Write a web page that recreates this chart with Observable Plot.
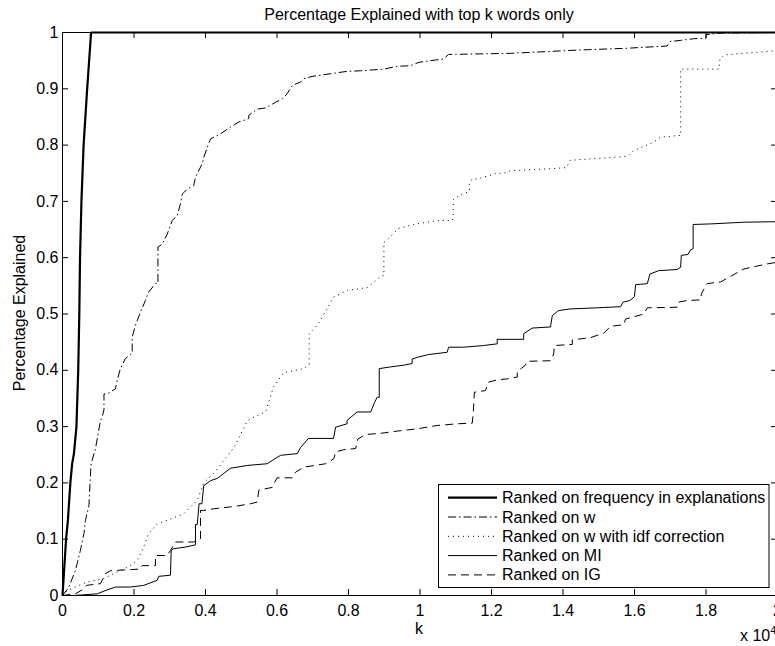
<!DOCTYPE html>
<html><head><meta charset="utf-8">
<script src="https://cdn.jsdelivr.net/npm/d3@7"></script>
<script src="https://cdn.jsdelivr.net/npm/@observablehq/plot@0.6"></script>
<style>html,body{margin:0;padding:0;background:#fff;overflow:hidden} svg{display:block}</style>
</head><body><div id="chart"></div>
<script>
const titleText = "Percentage Explained with top k words only";
const xLabel = "k";
const yLabel = "Percentage Explained";
const seriesNames = [
  "Ranked on frequency in explanations",
  "Ranked on w",
  "Ranked on w with idf correction",
  "Ranked on MI",
  "Ranked on IG"
];
const xTicks = [0,0.2,0.4,0.6,0.8,1,1.2,1.4,1.6,1.8,2];
const xTickLabels = ["0","0.2","0.4","0.6","0.8","1","1.2","1.4","1.6","1.8","2"];
const yTicks = [0,0.1,0.2,0.3,0.4,0.5,0.6,0.7,0.8,0.9,1];
const yTickLabels = ["0","0.1","0.2","0.3","0.4","0.5","0.6","0.7","0.8","0.9","1"];

// k in units of 10^4
const freqK = [0,0.005,0.010,0.015,0.022,0.027,0.032,0.039,0.044,0.047,0.049,0.053,0.059,0.069,0.080,2.0];
const freqP = [0,0.05,0.10,0.133,0.20,0.234,0.252,0.30,0.40,0.50,0.60,0.70,0.80,0.90,1.0,1.0];

const wK = [0,0.017,0.036,0.05,0.06,0.064,0.074,0.077,0.08,0.092,0.106,0.112,0.116,0.116,0.125,0.148,0.153,0.162,0.176,0.195,0.195,0.204,0.218,0.232,0.241,0.26,0.267,0.267,0.279,0.293,0.307,0.321,0.33,0.335,0.349,0.367,0.372,0.391,0.395,0.405,0.414,0.442,0.47,0.493,0.521,0.521,0.545,0.568,0.596,0.615,0.628,0.643,0.666,0.675,0.698,0.796,0.834,0.899,0.936,0.973,0.997,1.03,1.066,1.08,1.253,1.449,1.579,1.691,1.70,1.729,1.766,1.80,1.80,1.84,2.0];
const wP = [0,0.014,0.044,0.08,0.11,0.133,0.16,0.20,0.234,0.26,0.31,0.32,0.33,0.358,0.358,0.367,0.382,0.403,0.421,0.43,0.459,0.48,0.503,0.524,0.539,0.554,0.554,0.619,0.624,0.642,0.666,0.675,0.696,0.713,0.722,0.728,0.743,0.767,0.778,0.796,0.811,0.82,0.832,0.841,0.847,0.853,0.864,0.866,0.876,0.882,0.891,0.906,0.912,0.918,0.922,0.931,0.932,0.935,0.94,0.941,0.947,0.95,0.953,0.961,0.963,0.969,0.972,0.976,0.984,0.986,0.989,0.99,0.996,0.999,1.0];

const idfK = [0,0.013,0.069,0.116,0.134,0.181,0.209,0.227,0.241,0.265,0.302,0.339,0.358,0.377,0.395,0.423,0.48,0.517,0.526,0.568,0.59,0.619,0.675,0.69,0.69,0.713,0.741,0.758,0.797,0.853,0.892,0.899,0.899,0.926,0.94,0.982,1.049,1.09,1.093,1.093,1.104,1.118,1.138,1.138,1.146,1.163,1.177,1.195,1.213,1.234,1.25,1.27,1.363,1.41,1.42,1.58,1.597,1.653,1.673,1.723,1.729,1.729,1.836,1.839,1.85,2.0];
const idfP = [0,0.009,0.024,0.03,0.036,0.05,0.062,0.086,0.11,0.127,0.136,0.145,0.157,0.169,0.2,0.217,0.263,0.31,0.314,0.326,0.37,0.396,0.403,0.41,0.465,0.48,0.51,0.53,0.542,0.547,0.568,0.568,0.627,0.643,0.652,0.659,0.666,0.666,0.678,0.703,0.708,0.713,0.718,0.731,0.74,0.74,0.743,0.746,0.75,0.75,0.754,0.755,0.758,0.76,0.773,0.78,0.79,0.805,0.814,0.817,0.817,0.935,0.935,0.953,0.96,0.968];

const miK = [0,0.032,0.097,0.125,0.148,0.19,0.227,0.265,0.269,0.302,0.304,0.31,0.344,0.372,0.372,0.377,0.382,0.39,0.395,0.414,0.433,0.47,0.517,0.572,0.61,0.657,0.666,0.688,0.758,0.764,0.796,0.796,0.824,0.862,0.866,0.873,0.88,0.886,0.886,0.917,0.954,0.978,0.978,0.992,1.024,1.076,1.08,1.122,1.178,1.216,1.216,1.29,1.29,1.314,1.365,1.37,1.387,1.42,1.496,1.561,1.568,1.587,1.6,1.603,1.636,1.643,1.668,1.719,1.729,1.731,1.75,1.757,1.764,1.764,1.813,1.906,2.0];
const miP = [0,0,0.003,0.01,0.015,0.015,0.018,0.027,0.034,0.036,0.08,0.083,0.086,0.09,0.126,0.126,0.163,0.163,0.195,0.204,0.208,0.226,0.231,0.234,0.249,0.252,0.263,0.279,0.279,0.299,0.305,0.311,0.326,0.326,0.332,0.343,0.352,0.352,0.403,0.406,0.409,0.412,0.42,0.423,0.428,0.432,0.441,0.441,0.444,0.447,0.455,0.455,0.465,0.475,0.477,0.497,0.506,0.509,0.511,0.513,0.521,0.524,0.531,0.552,0.554,0.571,0.577,0.579,0.583,0.604,0.606,0.614,0.616,0.659,0.66,0.663,0.664];

const igK = [0,0.036,0.06,0.067,0.106,0.12,0.134,0.218,0.223,0.26,0.26,0.293,0.302,0.316,0.367,0.386,0.386,0.395,0.423,0.479,0.526,0.545,0.549,0.554,0.587,0.591,0.6,0.643,0.652,0.675,0.736,0.759,0.764,0.787,0.82,0.826,0.848,0.889,0.936,0.992,1.048,1.104,1.146,1.149,1.152,1.183,1.192,1.216,1.248,1.272,1.272,1.295,1.3,1.365,1.374,1.376,1.426,1.426,1.477,1.514,1.533,1.57,1.575,1.626,1.636,1.719,1.722,1.747,1.785,1.787,1.803,1.841,1.869,1.906,1.971,2.0];
const igP = [0,0.003,0.012,0.018,0.021,0.039,0.044,0.047,0.053,0.053,0.071,0.071,0.08,0.095,0.095,0.1,0.151,0.151,0.154,0.158,0.163,0.166,0.187,0.188,0.192,0.198,0.209,0.209,0.219,0.228,0.234,0.243,0.255,0.259,0.261,0.278,0.286,0.288,0.292,0.296,0.302,0.305,0.306,0.323,0.361,0.364,0.379,0.383,0.385,0.388,0.398,0.409,0.416,0.417,0.429,0.444,0.446,0.454,0.458,0.466,0.478,0.481,0.491,0.5,0.511,0.512,0.521,0.524,0.525,0.536,0.554,0.557,0.567,0.58,0.589,0.592];

const styles = [
  {strokeWidth: 2.2, dash: null},
  {strokeWidth: 1, dash: "8,3,1.5,3"},
  {strokeWidth: 1, dash: "1,4"},
  {strokeWidth: 1, dash: null},
  {strokeWidth: 1, dash: "8,5"}
];
const seriesK = [freqK, wK, idfK, miK, igK];
const seriesP = [freqP, wP, idfP, miP, igP];

const W = 775, H = 646, ML = 62, MT = 32, MB = 51, MR = 0;
const frameW = W - ML - MR, frameH = H - MT - MB;
const TL = 6;
const FS = 16;
const FONT = "'Liberation Sans', Arial, Helvetica, sans-serif";

const lineMarks = seriesNames.map((name, s) => Plot.line(
  seriesK[s].map((k, i) => ({k, p: seriesP[s][i], series: name})),
  {x: "k", y: "p", stroke: "#000", strokeWidth: styles[s].strokeWidth,
   strokeDasharray: styles[s].dash, strokeLinejoin: "miter", strokeLinecap: "butt"}
));

const plot = Plot.plot({
  width: W, height: H,
  marginLeft: ML, marginRight: MR, marginTop: MT, marginBottom: MB,
  style: {fontFamily: FONT, fontSize: FS + "px", background: "#fff", color: "#000", overflow: "hidden"},
  x: {domain: [0, 2], range: [ML, 777]},
  y: {domain: [0, 1]},
  marks: [
    ...lineMarks,
    Plot.ruleX([0], {stroke: "#000", strokeWidth: 1}),
    Plot.ruleY([0, 1], {stroke: "#000", strokeWidth: 1}),
    Plot.tickX(xTicks, {x: d => d, insetTop: frameH - TL, stroke: "#000"}),
    Plot.tickX(xTicks, {x: d => d, insetBottom: frameH - TL, stroke: "#000"}),
    Plot.tickY(yTicks, {y: d => d, insetRight: frameW - TL, stroke: "#000"}),
    Plot.tickY(yTicks, {y: d => d, insetLeft: frameW - TL + 2, stroke: "#000"}),
    Plot.axisX({ticks: xTicks, tickFormat: d => xTickLabels[xTicks.indexOf(d)], tickSize: 0, tickPadding: 9, label: null, fill: "#000"}),
    Plot.axisY({ticks: yTicks, tickFormat: d => yTickLabels[yTicks.indexOf(d)], tickSize: 0, tickPadding: 4, label: null, fill: "#000"})
  ]
});

document.getElementById("chart").appendChild(plot);
const svg = d3.select(plot);

svg.append("text").attr("x", 419).attr("y", 20).attr("text-anchor", "middle")
  .attr("font-size", FS).attr("fill", "#000").text(titleText);
svg.append("text").attr("x", 419).attr("y", 634).attr("text-anchor", "middle")
  .attr("font-size", FS).attr("fill", "#000").text(xLabel);
svg.append("text").attr("transform", "translate(25,313) rotate(-90)").attr("text-anchor", "middle")
  .attr("font-size", FS).attr("fill", "#000").text(yLabel);
const mult = svg.append("text").attr("x", 740).attr("y", 641).attr("text-anchor", "start")
  .attr("font-size", FS).attr("fill", "#000");
mult.append("tspan").text("x 10");
mult.append("tspan").attr("dy", -7).attr("font-size", 11).text("4");

// legend
const lg = svg.append("g").attr("text-anchor", "start");
lg.append("rect").attr("x", 438.5).attr("y", 484.5).attr("width", 330.5).attr("height", 103)
  .attr("fill", "#fff").attr("stroke", "#000").attr("stroke-width", 1);
seriesNames.forEach((name, s) => {
  const cy = 497.7 + s * 19.3;
  lg.append("line").attr("x1", 448).attr("x2", 497).attr("y1", cy).attr("y2", cy)
    .attr("stroke", "#000").attr("stroke-width", styles[s].strokeWidth)
    .attr("stroke-dasharray", styles[s].dash);
  lg.append("text").attr("x", 502).attr("y", cy + 5.5).attr("text-anchor", "start")
    .attr("font-size", FS).attr("fill", "#000").text(name);
});
</script></body></html>
